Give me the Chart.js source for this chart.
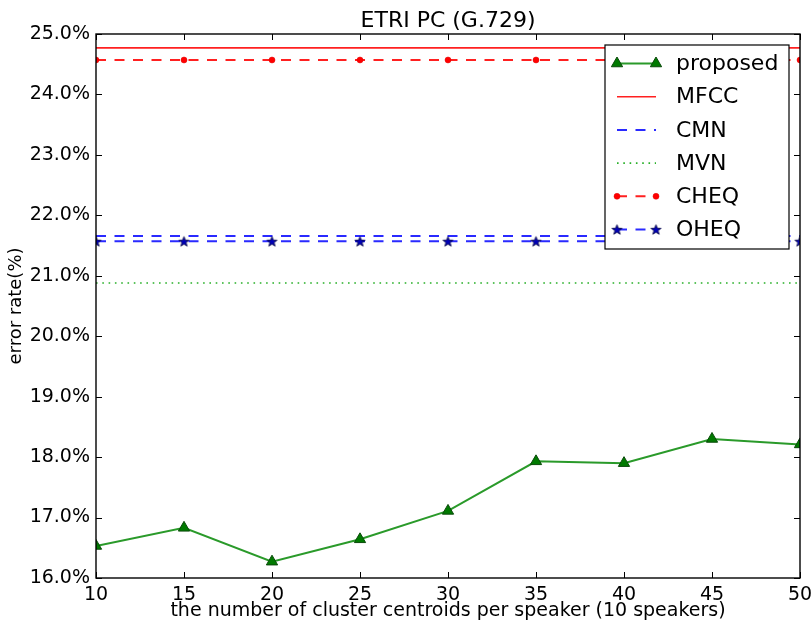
<!DOCTYPE html>
<html>
<head>
<meta charset="utf-8">
<title>ETRI PC (G.729)</title>
<script src="https://cdn.jsdelivr.net/npm/chart.js@4/dist/chart.umd.min.js"></script>
<style>
  html, body { margin: 0; padding: 0; background: #ffffff; }
  canvas { display: block; }
</style>
</head>
<body>
<canvas id="chart" width="812" height="624"></canvas>
<script>
// Error rate (%) versus number of cluster centroids per speaker
const centroids = [10, 15, 20, 25, 30, 35, 40, 45, 50];
const proposed  = [16.53, 16.83, 16.27, 16.64, 17.11, 17.93, 17.90, 18.30, 18.21];
const mfcc      = [24.77, 24.77, 24.77, 24.77, 24.77, 24.77, 24.77, 24.77, 24.77];
const cmn       = [21.66, 21.66, 21.66, 21.66, 21.66, 21.66, 21.66, 21.66, 21.66];
const mvn       = [20.88, 20.88, 20.88, 20.88, 20.88, 20.88, 20.88, 20.88, 20.88];
const cheq      = [24.57, 24.57, 24.57, 24.57, 24.57, 24.57, 24.57, 24.57, 24.57];
const oheq      = [21.57, 21.57, 21.57, 21.57, 21.57, 21.57, 21.57, 21.57, 21.57];
const yTickValues = [16, 17, 18, 19, 20, 21, 22, 23, 24, 25];
const chartTitle = 'ETRI PC (G.729)';

const FONT = "'DejaVu Sans', 'Liberation Sans', sans-serif";

function points(values) {
  return centroids.map((c, i) => ({ x: c, y: values[i] }));
}

// filled five-point star marker
function starMarker(r, fill, edge) {
  const s = Math.ceil(r * 2 + 4);
  const cv = document.createElement('canvas');
  cv.width = s; cv.height = s;
  const g = cv.getContext('2d');
  g.beginPath();
  for (let i = 0; i < 10; i++) {
    const rad = i % 2 ? r * 0.42 : r;
    const a = -Math.PI / 2 + i * Math.PI / 5;
    g.lineTo(s / 2 + rad * Math.cos(a), s / 2 + rad * Math.sin(a) + 0.5);
  }
  g.closePath();
  g.fillStyle = fill; g.fill();
  g.lineWidth = 0.8; g.strokeStyle = edge; g.stroke();
  return cv;
}

const DASH = [10, 8.5];
const DOT = [1.6, 4.7];

const datasets = [
  { label: 'proposed', data: points(proposed), borderColor: '#2a9a2a', borderWidth: 2,
    pointStyle: 'triangle', pointRadius: 6.5, pointBackgroundColor: '#007a00',
    pointBorderColor: '#0a4a0a', pointBorderWidth: 1 },
  { label: 'MFCC', data: points(mfcc), borderColor: '#ff2020', borderWidth: 1.6, pointRadius: 0 },
  { label: 'CMN', data: points(cmn), borderColor: '#2a2aff', borderWidth: 2, borderDash: DASH, pointRadius: 0 },
  { label: 'MVN', data: points(mvn), borderColor: '#28b028', borderWidth: 1.6, borderDash: DOT, pointRadius: 0 },
  { label: 'CHEQ', data: points(cheq), borderColor: '#ff2020', borderWidth: 2, borderDash: DASH,
    pointStyle: 'circle', pointRadius: 3, pointBackgroundColor: '#ff0000',
    pointBorderColor: '#e00000', pointBorderWidth: 0.5 },
  { label: 'OHEQ', data: points(oheq), borderColor: '#2a2aff', borderWidth: 2, borderDash: DASH,
    pointStyle: starMarker(5.3, '#0000b8', '#000040'), pointRadius: 5,
    pointBackgroundColor: '#0000b8', pointBorderColor: '#000040' }
].map((d, i) => Object.assign({ fill: false, tension: 0, clip: 0, order: 6 - i }, d));

// axes box with inward ticks on all four sides, title centred over the axes
const framePlugin = {
  id: 'frame',
  afterDatasetsDraw(chart) {
    const { ctx, chartArea: a, scales: { x, y } } = chart;
    ctx.save();
    ctx.strokeStyle = '#000000';
    ctx.lineWidth = 1;
    ctx.beginPath();
    x.ticks.forEach(t => {
      const px = Math.round(x.getPixelForValue(t.value)) + 0.5;
      ctx.moveTo(px, a.bottom); ctx.lineTo(px, a.bottom - 6);
      ctx.moveTo(px, a.top); ctx.lineTo(px, a.top + 6);
    });
    y.ticks.forEach(t => {
      const py = Math.round(y.getPixelForValue(t.value)) + 0.5;
      ctx.moveTo(a.left, py); ctx.lineTo(a.left + 6, py);
      ctx.moveTo(a.right, py); ctx.lineTo(a.right - 6, py);
    });
    ctx.stroke();
    ctx.lineWidth = 1.4;
    ctx.strokeRect(a.left, a.top, a.right - a.left, a.bottom - a.top);

    ctx.fillStyle = '#000000';
    ctx.font = '22px ' + FONT;
    ctx.textAlign = 'center';
    ctx.textBaseline = 'alphabetic';
    ctx.fillText(chartTitle, (a.left + a.right) / 2, a.top - 7);
    ctx.restore();
  }
};

// boxed legend in the upper right of the plot area
const boxLegendPlugin = {
  id: 'boxLegend',
  afterDraw(chart) {
    const { ctx, chartArea: a } = chart;
    const w = 184, h = 204;
    const bx = a.right - 11 - w, by = a.top + 11;
    ctx.save();
    ctx.fillStyle = '#ffffff';
    ctx.fillRect(bx, by, w, h);
    ctx.strokeStyle = '#000000';
    ctx.lineWidth = 1.2;
    ctx.strokeRect(bx, by, w, h);
    const rowH = 33.2;
    const x0 = bx + 12, x1 = bx + 51;
    chart.data.datasets.forEach((ds, i) => {
      const cy = by + 18.5 + i * rowH;
      ctx.save();
      ctx.beginPath();
      ctx.setLineDash(ds.borderDash || []);
      ctx.lineDashOffset = 0;
      ctx.strokeStyle = ds.borderColor;
      ctx.lineWidth = ds.borderWidth;
      ctx.moveTo(x0, cy); ctx.lineTo(x1, cy);
      ctx.stroke();
      ctx.setLineDash([]);
      if (ds.pointRadius > 0) {
        ctx.fillStyle = ds.pointBackgroundColor;
        ctx.strokeStyle = ds.pointBorderColor;
        ctx.lineWidth = ds.pointBorderWidth || 1;
        [x0, x1].forEach(px => {
          Chart.helpers.drawPoint(ctx, {
            pointStyle: ds.pointStyle, radius: ds.pointRadius, rotation: 0,
            borderWidth: ds.pointBorderWidth || 1
          }, px, cy);
        });
      }
      ctx.restore();
      ctx.fillStyle = '#000000';
      ctx.font = '22px ' + FONT;
      ctx.textAlign = 'left';
      ctx.textBaseline = 'middle';
      ctx.fillText(ds.label, bx + 71, cy + 1);
    });
    ctx.restore();
  }
};

new Chart(document.getElementById('chart'), {
  type: 'line',
  data: { datasets },
  options: {
    responsive: false,
    devicePixelRatio: 1,
    animation: false,
    events: [],
    layout: { padding: { left: 0, right: 12, top: 34, bottom: 0 } },
    plugins: {
      legend: { display: false },
      tooltip: { enabled: false },
      title: { display: false }
    },
    scales: {
      x: {
        type: 'linear',
        min: 10, max: 50,
        grid: { display: false, drawTicks: false },
        border: { display: false },
        ticks: {
          stepSize: 5, autoSkip: false, maxRotation: 0,
          color: '#000000', padding: 6,
          font: { family: FONT, size: 19 },
          callback: v => String(v)
        },
        title: {
          display: true,
          text: 'the number of cluster centroids per speaker (10 speakers)',
          color: '#000000',
          font: { family: FONT, size: 19 },
          padding: { top: 0, bottom: 2 }
        },
        afterFit(scale) {
          scale.height = 46;
          scale.paddingLeft = 0;
          scale.paddingRight = 0;
        }
      },
      y: {
        type: 'linear',
        min: 16, max: 25,
        grid: { display: false, drawTicks: false },
        border: { display: false },
        afterBuildTicks(scale) { scale.ticks = yTickValues.map(v => ({ value: v })); },
        ticks: {
          color: '#000000', padding: 6,
          font: { family: FONT, size: 19 },
          callback: v => Number(v).toFixed(1) + '%'
        },
        title: {
          display: true,
          text: 'error rate(%)',
          color: '#000000',
          font: { family: FONT, size: 18 },
          padding: { top: 6, bottom: 0 }
        },
        afterFit(scale) {
          scale.width = 96;
          scale.paddingTop = 0;
          scale.paddingBottom = 0;
        }
      }
    }
  },
  plugins: [framePlugin, boxLegendPlugin]
});
</script>
</body>
</html>
